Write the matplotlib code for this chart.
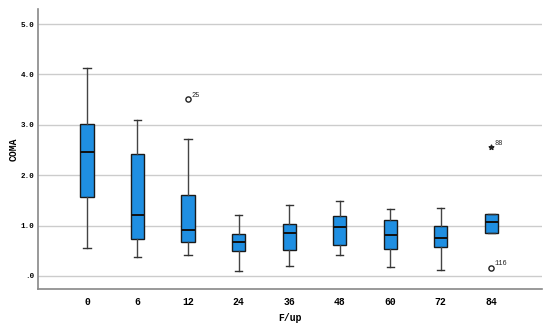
import matplotlib
matplotlib.use("Agg")
import matplotlib.pyplot as plt

categories = ["0", "6", "12", "24", "36", "48", "60", "72", "84"]
whisker_low = [0.55, 0.38, 0.42, 0.09, 0.19, 0.41, 0.18, 0.11, 0.85]
q1 = [1.56, 0.74, 0.67, 0.49, 0.51, 0.61, 0.54, 0.57, 0.85]
median = [2.45, 1.21, 0.92, 0.67, 0.85, 0.98, 0.81, 0.76, 1.06]
q3 = [3.01, 2.41, 1.60, 0.83, 1.03, 1.19, 1.11, 0.99, 1.22]
whisker_high = [4.13, 3.10, 2.72, 1.21, 1.40, 1.49, 1.32, 1.35, 1.22]

outlier_cat = [2, 8]
outlier_val = [3.51, 0.16]
outlier_lab = ["25", "116"]
extreme_cat = [8]
extreme_val = [2.55]
extreme_lab = ["88"]

yticks = [0, 1, 2, 3, 4, 5]
ytick_labels = [".0", "1.0", "2.0", "3.0", "4.0", "5.0"]

fig = plt.figure(figsize=(5.5, 3.31), dpi=100)
ax = fig.add_axes([0.069, 0.127, 0.916, 0.846])

stats = []
for i, c in enumerate(categories):
    stats.append(dict(label=c, whislo=whisker_low[i], q1=q1[i], med=median[i],
                      q3=q3[i], whishi=whisker_high[i], fliers=[]))

positions = list(range(len(categories)))
ax.bxp(stats, positions=positions, widths=0.26, patch_artist=True, showfliers=False,
       boxprops=dict(facecolor="#1f8fe2", edgecolor="#1a1a1a", linewidth=1.0),
       medianprops=dict(color="#111111", linewidth=1.4),
       whiskerprops=dict(color="#444444", linewidth=1.0),
       capprops=dict(color="#333333", linewidth=1.0),
       capwidths=0.14, zorder=3)

mono = "Liberation Mono"
ax.scatter(outlier_cat, outlier_val, s=14, facecolors="white", edgecolors="#222222",
           linewidths=1.0, zorder=4)
for x, y, t in zip(outlier_cat, outlier_val, outlier_lab):
    ax.text(x + 0.06, y + 0.05, t, fontsize=5, family=mono, color="#222222")
ax.scatter(extreme_cat, extreme_val, marker="*", s=12, color="#222222", zorder=4)
for x, y, t in zip(extreme_cat, extreme_val, extreme_lab):
    ax.text(x + 0.06, y + 0.05, t, fontsize=5, family=mono, color="#222222")

ax.set_xlim(-0.97, 9.0)
ax.set_ylim(-0.26, 5.3)
ax.set_yticks(yticks)
ax.set_yticklabels(ytick_labels, fontsize=5.5, family=mono, fontweight="bold")
ax.set_xticks(positions)
ax.set_xticklabels(categories, fontsize=7, family=mono, fontweight="bold")
ax.tick_params(axis="x", length=0, pad=6)
ax.tick_params(axis="y", length=0, pad=2.5)
ax.grid(axis="y", color="#cccccc", linewidth=1.0, zorder=0)
ax.set_axisbelow(True)
for s in ["top", "right"]:
    ax.spines[s].set_visible(False)
for s in ["left", "bottom"]:
    ax.spines[s].set_color("#888888")
    ax.spines[s].set_linewidth(1.2)

fig.text(0.527, 0.04, "F/up", fontsize=7, family=mono, fontweight="bold", ha="center", va="center")
fig.text(0.025, 0.55, "COMA", fontsize=7, family=mono, fontweight="bold", rotation=90,
         ha="center", va="center")

fig.savefig("out.png", dpi=100)
